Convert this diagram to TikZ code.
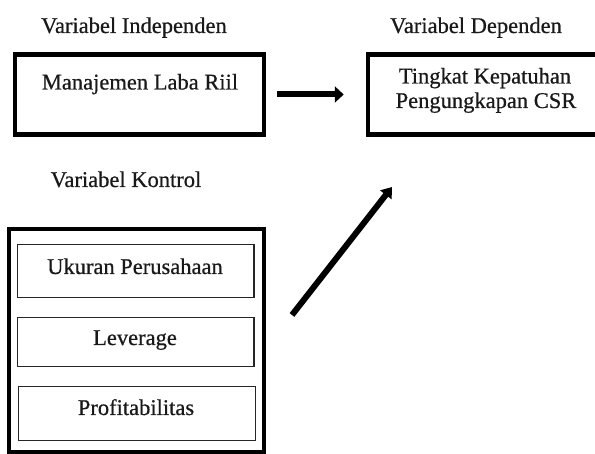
\documentclass[tikz,border=0pt]{standalone}
\usepackage{fontspec}
\setmainfont[FakeBold=0.6]{Liberation Serif}
\usetikzlibrary{arrows.meta}
\begin{document}
\begin{tikzpicture}[x=1pt,y=-1pt,
  lbl/.style={anchor=base,inner sep=0pt,font=\fontsize{22.5}{26}\selectfont,text=black!90},
  mainbox/.style={draw=black,line width=4.5pt,minimum width=#1,inner sep=0pt},
  subbox/.style={draw=black!85,line width=1.8pt,inner sep=0pt},
  bigarrow/.style={line width=6pt,-{Triangle[length=9pt,width=16pt]}}]
\useasboundingbox (0,0) rectangle (595,454);
\clip (0,0) rectangle (595,454);
% titles
\node[lbl] (tind) at (134,33) {Variabel Independen};
\node[lbl] (tdep) at (476,33) {Variabel Dependen};
\node[lbl] (tkon) at (126,187) {Variabel Kontrol};
% independent box
\node[mainbox=249pt,minimum height=80pt] (box1) at (139.5,94.5) {};
\node[lbl] (t1) at (140,89.5) {Manajemen Laba Riil};
% dependent box
\node[mainbox=249pt,minimum height=80pt] (box2) at (492.5,94.5) {};
\node[lbl] (t2a) at (485,83.5) {Tingkat Kepatuhan};
\node[lbl] (t2b) at (486,108) {Pengungkapan CSR};
% control box
\node[mainbox=255pt,minimum height=223pt] (box3) at (136.5,340.5) {};
\node[subbox,minimum width=236.5pt,minimum height=53pt] (c1) at (135.75,271) {};
\node[lbl] (tc1) at (135,274) {Ukuran Perusahaan};
\node[subbox,minimum width=236.5pt,minimum height=49pt] (c2) at (135.75,342) {};
\node[lbl] (tc2) at (135,345) {Leverage};
\node[subbox,minimum width=237pt,minimum height=54pt] (c3) at (137,413.5) {};
\node[lbl] (tc3) at (136,415) {Profitabilitas};
% arrows
\draw[bigarrow,shorten <=11pt,shorten >=22pt] (box1.east) -- (box2.west);
\coordinate (d1) at (292,315);
\coordinate (d2) at (392,187);
\draw[bigarrow,-{Triangle[length=10pt,width=14pt]}] (d1) -- (d2);
\end{tikzpicture}
\end{document}
